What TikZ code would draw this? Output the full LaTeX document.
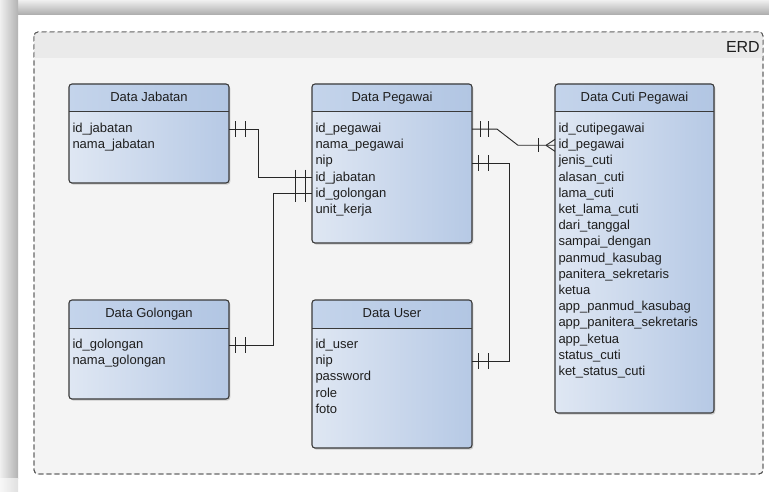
\documentclass[tikz,border=0pt]{standalone}
\usepackage{fontspec}
\setmainfont{Liberation Sans}
\usetikzlibrary{shadows,calc}
\definecolor{boxline}{HTML}{3A3A3A}
\definecolor{bodyL}{HTML}{DFE7F3}
\definecolor{bodyR}{HTML}{B6C9E5}
\definecolor{hdrL}{HTML}{C4D4EB}
\definecolor{hdrR}{HTML}{B2C6E3}
\definecolor{txtc}{HTML}{1E1E1E}
\definecolor{linec}{HTML}{262626}
\definecolor{contfill}{HTML}{F4F4F4}
\definecolor{contband}{HTML}{EAEAEA}
\definecolor{contline}{HTML}{555555}
\tikzset{
  ent/.style={rounded corners=3pt, left color=bodyL, right color=bodyR,
    inner sep=0pt, outer sep=0pt,
    drop shadow={shadow xshift=1.3pt, shadow yshift=-1.6pt, opacity=0.35}},
  txt/.style={inner sep=0pt, outer sep=0pt, text=txtc,
    font=\fontsize{13}{15}\selectfont, text height=9.5pt, text depth=2.7pt},
  conn/.style={draw=linec, line width=0.9pt},
  barline/.style={draw=linec, line width=1pt},
  cont/.style={draw=contline, line width=0.9pt, dash pattern=on 5pt off 3pt,
    rounded corners=4pt, inner sep=0pt, outer sep=0pt}
}
\newcommand\mkent[7]{%
  \node[ent, minimum width={(#4-#2)*1pt}, minimum height={(#5-#3)*1pt}]
    (#1) at ({(#2+#4)/2},{(#3+#5)/2}) {};
  \begin{scope}
    \clip[rounded corners=3pt] (#1.north west) rectangle (#1.south east);
    \shade[left color=hdrL, right color=hdrR] (#1.north west) rectangle ([yshift=-28pt]#1.north east);
  \end{scope}
  \draw[boxline, line width=1pt] ([yshift=-28pt]#1.north west) -- ([yshift=-28pt]#1.north east);
  \draw[boxline, line width=1.1pt, rounded corners=3pt] (#1.north west) rectangle (#1.south east);
  \node[txt] (#1-t) at ([yshift=-14.5pt]#1.north) {#6};
  \foreach \attr [count=\nn] in {#7}
    \node[txt, anchor=base west] (#1-\nn) at ([xshift=3.5pt, yshift={-48.5pt-(\nn-1)*16.2pt}]#1.north west) {\attr};
}
\newcommand\erbar[2]{\draw[barline] ([xshift=#2]#1) ++(0,-8) -- ++(0,16);}
\begin{document}
\begin{tikzpicture}[x=1pt,y=-1pt]
\useasboundingbox (0,0) rectangle (769,492);
% frame
\fill[white] (0,0) rectangle (769,492);
\shade[top color=black!6, bottom color=black!33] (0,0) rectangle (769,15);
\shade[left color=black!6, right color=black!30] (0,0) rectangle (18,478);
\shade[left color=black!3, right color=black!12] (0,478) rectangle (18,492);
% container
\node[cont, fill=contfill, minimum width=729pt, minimum height=442pt, anchor=north west] (erd) at (34,32) {};
\begin{scope}
  \clip[rounded corners=4pt] (erd.north west) rectangle (erd.south east);
  \fill[contband] (erd.north west) rectangle ([yshift=-26pt]erd.north east);
\end{scope}
\draw[cont] (erd.north west) rectangle (erd.south east);
\node[anchor=east, inner sep=0pt, text=txtc, font=\fontsize{16}{18}\selectfont] (erdl) at (760,46.5) {ERD};
% entities
\mkent{jab}{69}{84}{229}{183}{Data Jabatan}{id\_jabatan,nama\_jabatan}
\mkent{peg}{312}{84}{472}{243}{Data Pegawai}{id\_pegawai,nama\_pegawai,nip,id\_jabatan,id\_golongan,unit\_kerja}
\mkent{cuti}{555}{84}{714}{413}{Data Cuti Pegawai}{id\_cutipegawai,id\_pegawai,jenis\_cuti,alasan\_cuti,lama\_cuti,ket\_lama\_cuti,dari\_tanggal,sampai\_dengan,panmud\_kasubag,panitera\_sekretaris,ketua,app\_panmud\_kasubag,app\_panitera\_sekretaris,app\_ketua,status\_cuti,ket\_status\_cuti}
\mkent{gol}{69}{300}{229}{399}{Data Golongan}{id\_golongan,nama\_golongan}
\mkent{usr}{312}{300}{472}{448}{Data User}{id\_user,nip,password,role,foto}
% connector anchors
\coordinate (jx) at (258,0);
\coordinate (gx) at (273,0);
\coordinate (d1) at (497,0);
\coordinate (d2) at (518,0);
\coordinate (ux) at (509,0);
\coordinate (a1) at (jab.east |- jab-1);
\coordinate (a2) at (peg.west |- peg-4);
\coordinate (b1) at (gol.east |- gol-1);
\coordinate (b2) at (peg.west |- peg-5);
\coordinate (c1) at (peg.east |- peg-1);
\coordinate (c2) at (cuti.west |- cuti-2);
\coordinate (e1) at ([yshift=-2pt]peg.east |- peg-3);
\coordinate (e2) at (usr.east |- usr-2);
% connectors
\draw[conn] (a1) -| (jx |- a2) -- (a2);
\draw[conn] (b1) -| (gx |- b2) -- (b2);
\draw[conn] (c1) -- (d1 |- c1) -- (d2 |- c2) -- (c2);
\draw[conn] (e1) -| (ux |- e2) -- (e2);
% cardinality marks
\erbar{a1}{6pt} \erbar{a1}{16pt}
\erbar{a2}{-17pt} \erbar{a2}{-7pt}
\erbar{b1}{6pt} \erbar{b1}{16pt}
\erbar{b2}{-17pt} \erbar{b2}{-7pt}
\erbar{c1}{8pt} \erbar{c1}{16pt}
\erbar{e1}{6pt} \erbar{e1}{16pt}
\erbar{e2}{6pt} \erbar{e2}{16pt}
\draw[barline] ([xshift=-17pt]c2) ++(0,-7) -- ++(0,14);
\draw[conn] ([xshift=-9pt]c2) -- ([yshift=6pt]c2);
\draw[conn] ([xshift=-9pt]c2) -- ([yshift=-6pt]c2);
\end{tikzpicture}
\end{document}
